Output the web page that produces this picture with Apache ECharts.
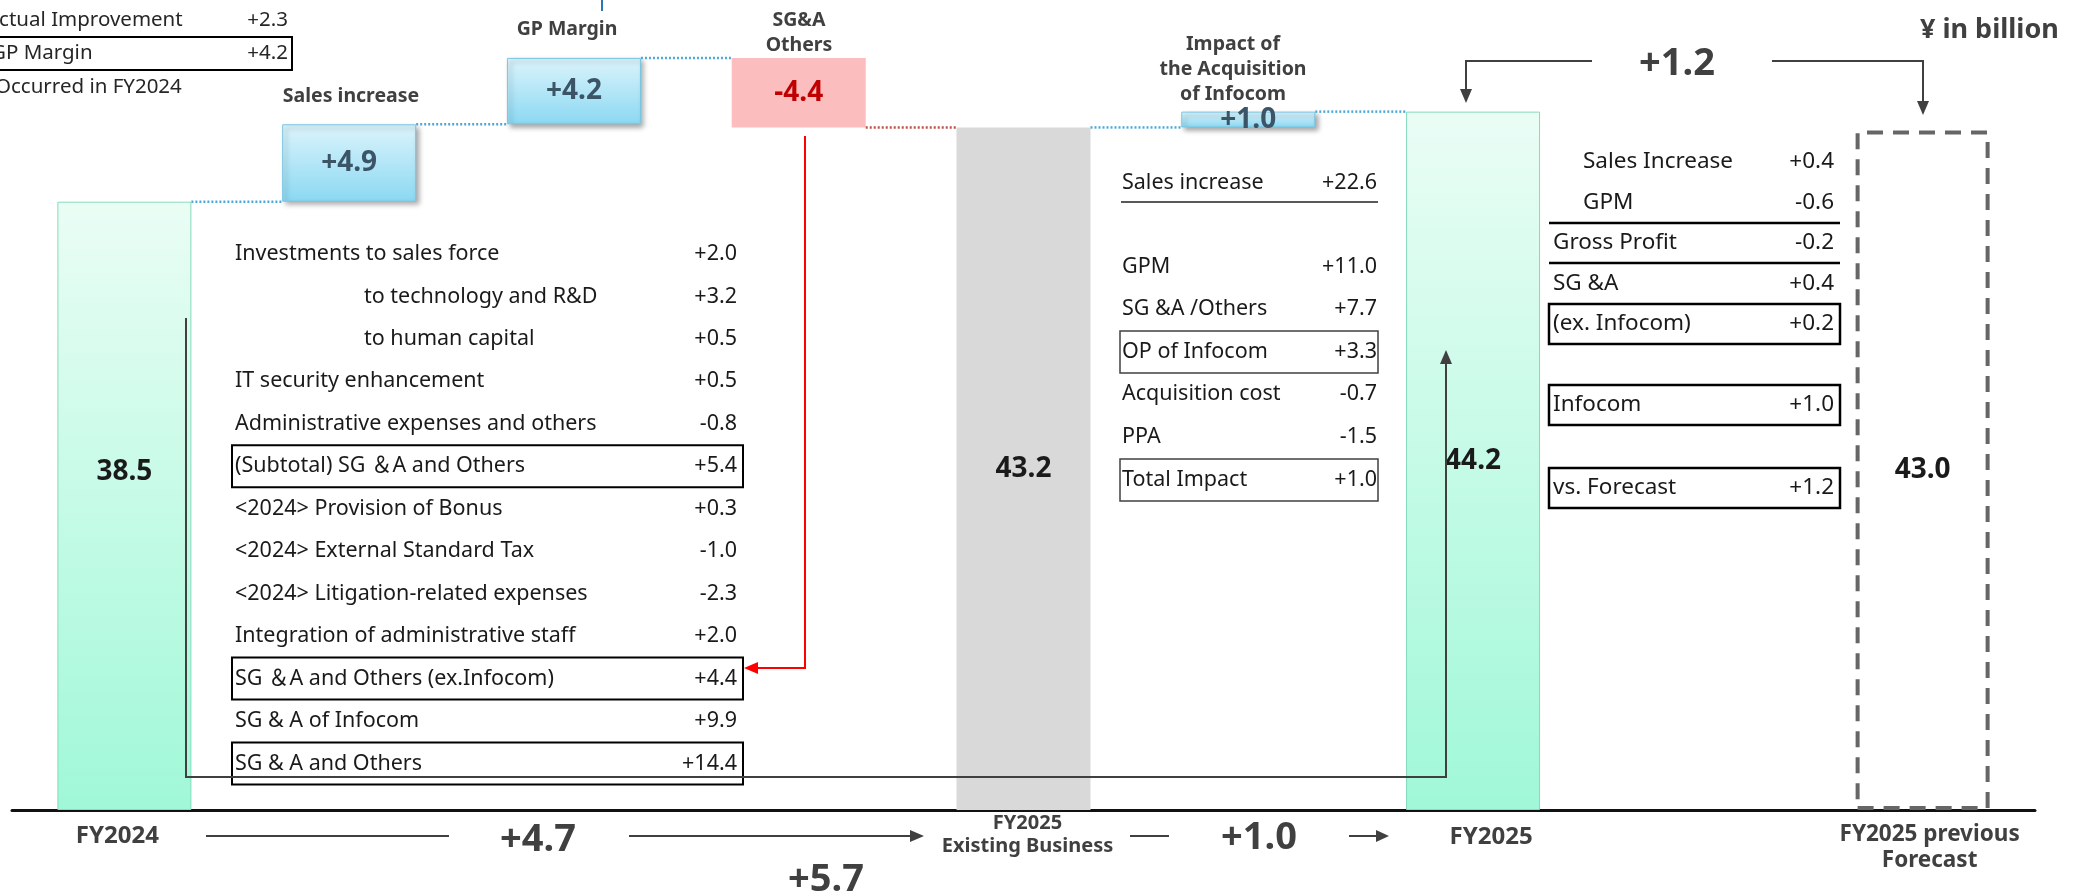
<!DOCTYPE html>
<html><head><meta charset="utf-8">
<script src="https://cdn.jsdelivr.net/npm/echarts@6/dist/echarts.min.js"></script>
<style>html,body{margin:0;padding:0;background:#fff}#c{width:2073px;height:896px}</style>
</head><body><div id="c"></div>
<script>
// ---------------- data ----------------
const categories = ['FY2024', '', '', '', 'FY2025\nExisting Business', '', 'FY2025', '', 'FY2025 previous\nForecast'];
const stepNames = ['', 'Sales increase', 'GP Margin', 'SG&A\nOthers', '', 'Impact of\nthe Acquisition\nof Infocom', '', '', ''];
const totalValues = [38.5, '-', '-', '-', '-', '-', 44.2, '-', '-'];
const existingValues = ['-', '-', '-', '-', 43.2, '-', '-', '-', '-'];
const deltaValues = ['-', 4.9, 4.2, -4.4, '-', 1.0, '-', '-', '-'];
const forecastValues = ['-', '-', '-', '-', '-', '-', '-', '-', 43.0];

const noteLabels = ['Actual Improvement', 'GP Margin', 'Occurred in FY2024'];
const noteValues = ['+2.3', '+4.2', ''];

const leftLabels = ['Investments to sales force', 'to technology and R&D', 'to human capital', 'IT security enhancement',
  'Administrative expenses and others', '(Subtotal) SG ＆A and Others', '<2024> Provision of Bonus',
  '<2024> External Standard Tax', '<2024> Litigation-related expenses', 'Integration of administrative staff',
  'SG ＆A and Others (ex.Infocom)', 'SG & A of Infocom', 'SG & A and Others'];
const leftValues = ['+2.0', '+3.2', '+0.5', '+0.5', '-0.8', '+5.4', '+0.3', '-1.0', '-2.3', '+2.0', '+4.4', '+9.9', '+14.4'];

const midLabels = ['Sales increase', 'GPM', 'SG &A /Others', 'OP of Infocom', 'Acquisition cost', 'PPA', 'Total Impact'];
const midValues = ['+22.6', '+11.0', '+7.7', '+3.3', '-0.7', '-1.5', '+1.0'];

const rightLabels = ['Sales Increase', 'GPM', 'Gross Profit', 'SG &A', '(ex. Infocom)', 'Infocom', 'vs. Forecast'];
const rightValues = ['+0.4', '-0.6', '-0.2', '+0.4', '+0.2', '+1.0', '+1.2'];

const bridgeLabels = ['+4.7', '+5.7', '+1.0', '+1.2'];
const unitLabel = '¥ in billion';

// ---------------- waterfall computation ----------------
const isNum = v => typeof v === 'number';
const baseValues = [], upValues = [], downValues = [], connectors = [];
let level = 0;
categories.forEach((c, i) => {
  if (isNum(totalValues[i])) { level = totalValues[i]; }
  if (isNum(existingValues[i])) { level = existingValues[i]; }
  const d = deltaValues[i];
  if (isNum(d)) {
    baseValues.push(d >= 0 ? level : level + d);
    upValues.push(d >= 0 ? d : '-');
    downValues.push(d < 0 ? -d : '-');
    level = +(level + d).toFixed(1);
  } else {
    baseValues.push('-'); upValues.push('-'); downValues.push('-');
  }
  const hasBar = isNum(totalValues[i]) || isNum(existingValues[i]) || isNum(d);
  if (hasBar && i < 6) connectors.push([i, level, isNum(d) && d < 0 ? 1 : 0]);
});

// ---------------- styling ----------------
const FONT = '"Noto Sans", "Noto Sans CJK JP", sans-serif';
const BAR_W = 134;
const DARK = '#404040';
const G = echarts.graphic;
const mint = new G.LinearGradient(0, 0, 0, 1, [{offset: 0, color: '#eafdf5'}, {offset: 1, color: '#a0f8d8'}]);
const blue = new G.LinearGradient(0, 0, 0, 1, [{offset: 0, color: '#dcf4fc'}, {offset: 1, color: '#8bd8f2'}]);

function txt(text, x, y, opt) {
  opt = opt || {};
  const align = opt.align || 'left';
  const st = Object.assign({text: text, fontFamily: FONT, fontSize: 20, fill: '#1a1a1a'}, opt);
  st.align = align; st.textAlign = align;
  st.verticalAlign = 'middle'; st.textVerticalAlign = 'middle';
  return {type: 'text', x: x, y: y, z: 100, style: st};
}
function pl(points, color, w) {
  return {type: 'polyline', z: 100, shape: {points: points}, style: {stroke: color, lineWidth: w || 2, fill: null}};
}
function tri(points, color) {
  return {type: 'polygon', z: 100, shape: {points: points}, style: {fill: color}};
}
function box(x, y, w, h, color, lw) {
  return {type: 'rect', z: 100, shape: {x: x, y: y, width: w, height: h}, style: {stroke: color, lineWidth: lw, fill: 'rgba(0,0,0,0)'}};
}

const graphics = [];
// top-left note
const noteY = [20, 53, 87], noteX = [-14, -9, -5];
noteLabels.forEach((t, i) => {
  graphics.push(txt(t, noteX[i], noteY[i], {fontSize: 20.5, fill: '#262626'}));
  if (noteValues[i]) graphics.push(txt(noteValues[i], 288, noteY[i], {fontSize: 20.5, fill: '#262626', align: 'right'}));
});
graphics.push(box(-2, 37, 294, 33, '#000', 2));
graphics.push(pl([[602, 0], [602, 11]], '#2e75b6', 2));

// step names above boxes
const stepPos = {1: [351, 96], 2: [567, 29], 3: [799, 32.5], 5: [1233, 69]};
stepNames.forEach((t, i) => {
  if (t) graphics.push(txt(t, stepPos[i][0], stepPos[i][1], {fontSize: 19.5, fontWeight: 'bold', fill: DARK, align: 'center', lineHeight: 25}));
});
graphics.push(txt(unitLabel, 1920, 30, {fontSize: 27, fontWeight: 'bold', fill: DARK}));

// left table
leftLabels.forEach((t, i) => {
  const y = 254 + i * 42.45;
  graphics.push(txt(t, (i === 1 || i === 2) ? 364 : 235, y, {fontSize: 21.5}));
  graphics.push(txt(leftValues[i], 737, y, {fontSize: 21.5, align: 'right'}));
  if (i === 5 || i === 10 || i === 12) graphics.push(box(232, y - 21, 511, 42, '#000', 2));
});

// middle table
const midY = [183, 267, 309, 352, 394, 437, 480];
midLabels.forEach((t, i) => {
  graphics.push(txt(t, 1122, midY[i], {fontSize: 21.5}));
  graphics.push(txt(midValues[i], 1377, midY[i], {fontSize: 21.5, align: 'right'}));
  if (i === 3 || i === 6) graphics.push(box(1120, midY[i] - 21, 258, 42, DARK, 1.5));
});
graphics.push(pl([[1121, 202], [1378, 202]], '#595959', 2));

// right table
const rightY = [162, 203, 243, 284, 324, 405, 488];
rightLabels.forEach((t, i) => {
  graphics.push(txt(t, i < 2 ? 1583 : 1553, rightY[i], {fontSize: 22.5}));
  graphics.push(txt(rightValues[i], 1834, rightY[i], {fontSize: 22.5, align: 'right'}));
  if (i >= 4) graphics.push(box(1549, rightY[i] - 20, 291, 40, '#000', 2.5));
});
graphics.push(pl([[1549, 223], [1840, 223]], '#000', 2.5));
graphics.push(pl([[1549, 263], [1840, 263]], '#000', 2.5));

// arrows
graphics.push(pl([[186, 318], [186, 777], [1446, 777], [1446, 362]], DARK, 2));
graphics.push(tri([[1446, 350], [1440, 364], [1452, 364]], DARK));
graphics.push(pl([[805, 136], [805, 668], [756, 668]], '#ff0000', 2));
graphics.push(tri([[744, 668], [758, 662], [758, 674]], '#ff0000'));
graphics.push(pl([[1592, 61], [1466, 61], [1466, 90]], DARK, 2));
graphics.push(tri([[1466, 103], [1460, 89], [1472, 89]], DARK));
graphics.push(pl([[1772, 61], [1923, 61], [1923, 102]], DARK, 2));
graphics.push(tri([[1923, 115], [1917, 101], [1929, 101]], DARK));

// bottom bridges
graphics.push(pl([[206, 836], [449, 836]], DARK, 2));
graphics.push(pl([[629, 836], [912, 836]], DARK, 2));
graphics.push(tri([[924, 836], [910, 830], [910, 842]], DARK));
graphics.push(pl([[1130, 836], [1169, 836]], DARK, 2));
graphics.push(pl([[1349, 836], [1378, 836]], DARK, 2));
graphics.push(tri([[1389, 836], [1376, 830], [1376, 842]], DARK));
const bridgePos = [[538, 840], [826, 880], [1259, 838], [1677, 64]];
bridgeLabels.forEach((t, i) => {
  graphics.push(txt(t, bridgePos[i][0], bridgePos[i][1], {fontSize: 38, fontWeight: 'bold', fill: DARK, align: 'center'}));
});

// category axis items with per-label placement
const catPad = {0: [10, 14, 0, 0], 4: [0, 0, 0, 8], 6: [11, 0, 0, 36], 8: [10, 0, 0, 14]};
const catLH = {0: 28, 6: 28, 8: 26};
const catFS = {0: 24, 6: 24, 8: 22.5};
const axisData = categories.map((c, i) => ({value: c, textStyle: {padding: catPad[i] || 0, lineHeight: catLH[i] || 23, fontSize: catFS[i] || 20}}));

const bigLabel = {show: true, position: 'inside', fontFamily: FONT, fontSize: 28, fontWeight: 'bold', color: '#1a1a1a',
  formatter: p => (+p.value).toFixed(1)};

const option = {
  animation: false,
  backgroundColor: '#fff',
  grid: {left: 12, right: 38, top: 20, bottom: 86},
  xAxis: {
    type: 'category', data: axisData,
    axisLine: {lineStyle: {color: '#111', width: 3}},
    axisTick: {show: false},
    axisLabel: {interval: 0, margin: 2, fontFamily: FONT, fontSize: 20, fontWeight: 'bold', color: DARK, lineHeight: 23}
  },
  yAxis: {type: 'value', min: 0, max: 50, show: false, splitLine: {show: false}},
  series: [
    {name: 'base', type: 'bar', stack: 'w', barWidth: BAR_W, data: baseValues, itemStyle: {color: 'rgba(0,0,0,0)'}, silent: true},
    {name: 'increase', type: 'bar', stack: 'w', barWidth: BAR_W, data: upValues,
      itemStyle: {color: blue, borderColor: '#79c6e2', borderWidth: 1, shadowBlur: 5, shadowOffsetX: 3, shadowOffsetY: 3, shadowColor: 'rgba(0,0,0,0.35)'},
      label: {show: true, position: 'inside', fontFamily: FONT, fontSize: 28, fontWeight: 'bold', color: '#3b5567', formatter: p => '+' + (+p.value).toFixed(1)}},
    {name: 'decrease', type: 'bar', stack: 'w', barWidth: BAR_W, data: downValues,
      itemStyle: {color: '#fbbdbd'},
      label: {show: true, position: 'inside', fontFamily: FONT, fontSize: 28, fontWeight: 'bold', color: '#c00000', formatter: p => '-' + (+p.value).toFixed(1)}},
    {name: 'total', type: 'bar', stack: 'w', barWidth: BAR_W,
      data: totalValues.map((v, i) => i === 0 ? {value: v, label: {offset: [0, -34]}} : v),
      itemStyle: {color: mint, borderColor: '#86dabd', borderWidth: 1}, label: bigLabel},
    {name: 'existing', type: 'bar', stack: 'w', barWidth: BAR_W, data: existingValues,
      itemStyle: {color: '#d9d9d9'}, label: bigLabel},
    {name: 'forecast', type: 'bar', stack: 'w', barWidth: BAR_W, data: forecastValues,
      itemStyle: {color: 'rgba(0,0,0,0)', borderColor: '#666', borderWidth: 4, borderType: [16, 10]}, label: bigLabel},
    {name: 'connectors', type: 'custom', data: connectors, z: 5,
      renderItem: (params, api) => {
        const p = api.coord([api.value(0), api.value(1)]);
        const band = api.size([1, 0])[0];
        const neg = api.value(2) === 1;
        return {type: 'line', shape: {x1: p[0] + BAR_W / 2, y1: p[1], x2: p[0] + band - BAR_W / 2, y2: p[1]},
          style: {stroke: neg ? '#c0504d' : '#4fa9d6', lineWidth: 2.5, lineDash: [2, 2]}};
      }}
  ],
  graphic: graphics
};
const chart = echarts.init(document.getElementById('c'));
chart.setOption(option);
</script></body></html>
